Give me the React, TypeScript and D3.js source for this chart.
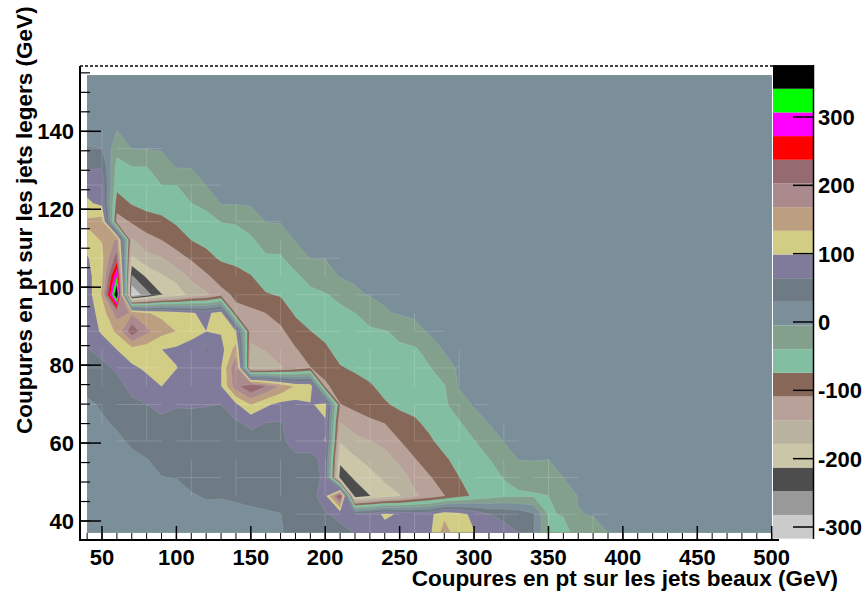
import React from "react";
import * as d3 from "d3";

const W = 866, H = 594;
const xTitle = "Coupures en pt sur les jets beaux (GeV)";
const yTitle = "Coupures en pt sur les jets legers (GeV)";
const font = "'Liberation Sans', Arial, sans-serif";

// grid
const nRows = 26;
const xStart = 40, xStep = 10, xEnd = 500;
const yTop = 154.36, yStep = 4.692;

// colour bar
const bandStart = -317, bandStep = 34.65;
const bandColors = ["#cbcbcb","#999999","#4d4d4d","#cbc6a8","#b9b29f","#b7a199","#876858","#82bfa2","#82a08c","#7b8f9a",
  "#6e7b85","#807b9b","#d2cd85","#bc9f80","#ab8a8d","#956a70","#ff0000","#ff00ff","#00ff00","#000000"];
const barTicks = [-300,-200,-100,0,100,200,300];
const xTicks = [50,100,150,200,250,300,350,400,450,500];
const yTicks = [40,60,80,100,120,140];

// z per column, top row first; rows above the first listed value sit at 0
const col = (...v: number[]) => [...new Array(nRows - v.length).fill(0), ...v];
const z40 = col(10,32,60,85,105,140,120,95,85,80,78,72,63,52,38,24,18,15,15,15,15,15,15);
const z50 = col(10,30,62,85,90,150,136,125,128,138,115,105,72,58,42,33,26,20,15,15,15,15,15);
const z60 = col(-5,-28,-52,-65,-90,-125,175,222,305,385,185,140,99,68,55,45,33,25,15,15,15,15,15);
const z70 = col(-4,-40,-57,-72,-105,-147,-185,-253,-312,165,228,120,92,72,58,45,33,25,15,15,15,15);
const z80 = col(-3,-40,-52,-64,-88,-122,-155,-208,-262,135,178,115,105,85,64,50,38,29,22,15,15,15);
const z90 = col(-2,-22,-40,-60,-82,-109,-146,-183,-215,128,145,99,110,99,72,58,45,35,29,22,15,15);
const z100 = col(-3,-40,-55,-70,-93,-122,-165,-200,115,133,92,100,80,66,56,48,38,30,22,15,15);
const z110 = col(-3,-25,-40,-58,-74,-105,-137,-165,102,108,88,78,72,66,58,50,42,35,28,20,15);
const z120 = col(-4,-33,-50,-65,-85,-115,-150,90,99,60,75,72,65,58,50,45,38,31,24,15);
const z130 = col(-3,-39,-58,-70,-94,-120,115,102,85,97,97,64,56,50,45,38,31,22,15);
const z140 = col(-3,-37,-53,-67,-84,-103,-118,100,150,205,190,92,60,50,45,38,32,25,15);
const z150 = col(-1,-25,-45,-60,-76,-95,-115,-132,-150,-170,240,135,70,55,48,40,33,27,15);
const z160 = col(-4,-25,-45,-60,-77,-109,-125,-142,-160,205,105,64,52,46,40,34,28,15);
const z170 = col(-3,-23,-44,-58,-72,-95,-116,-130,-146,165,88,62,60,55,48,40,29,28);
const z180 = col(-3,-22,-47,-58,-70,-90,-112,-128,130,88,75,72,60,55,48,40,36);
const z190 = col(-4,-27,-50,-62,-75,-92,-110,125,95,80,75,58,52,48,42,38);
const z200 = col(-4,-22,-42,-55,-65,-80,-95,-115,110,95,100,70,70,85,62,58);
const z210 = col(-3,-32,-47,-55,-62,-77,-94,-110,-144,-175,-204,-233,250,70,58);
const z220 = col(-1,-10,-40,-47,-55,-70,-86,-100,-125,-155,-183,-208,-238,75,65);
const z230 = col(-3,-30,-43,-52,-62,-78,-92,-115,-144,-167,-190,-214,80,75);
const z240 = col(-8,-42,-48,-55,-65,-78,-108,-135,-155,-172,-195,105,85);
const z250 = col(-2,-32,-45,-52,-60,-68,-88,-110,-137,-158,-180,95,82);
const z260 = col(-15,-45,-50,-56,-63,-80,-92,-111,-133,-150,85,80);
const z270 = col(-1,-25,-42,-48,-55,-66,-80,-92,-112,-130,88,90);
const z280 = col(-2,-20,-42,-46,-52,-62,-80,-93,-110,125,150);
const z290 = col(-2,-20,-43,-51,-62,-75,-85,110,112);
const z300 = col(-2,-20,-41,-50,-58,-70,90,100);
const z310 = col(-4,-22,-41,-47,-55,65,78);
const z320 = col(-4,-20,-39,-45,58,72);
const z330 = col(-4,-28,-45,52,64);
const z340 = col(-3,-26,-43,32,32);
const z350 = col(-5,-22,-40,-42,-42);
const z360 = col(-5,-20,-38,-50);
const z370 = col(-4,-6,-28);
const z380 = col(-4,-14);
const z390 = col(-5);
const columns = [z40,z50,z60,z70,z80,z90,z100,z110,z120,z130,z140,z150,z160,z170,z180,z190,z200,z210,z220,z230,z240,z250,z260,z270,z280,z290,z300,z310,z320,z330,z340,z350,z360,z370,z380,z390];

const nCols = (xEnd - xStart) / xStep + 1;
const zAt = (i: number, j: number) => (columns[i] ? columns[i][j] : 0);

export default function App() {
  const x = d3.scaleLinear().domain([50, 500]).range([102, 771.7]);
  const y = d3.scaleLinear().domain([40, 140]).range([521, 131.3]);
  const c = d3.scaleLinear().domain([-300, 300]).range([527, 117]);

  const flat: number[] = [];
  for (let j = 0; j < nRows; j++) for (let i = 0; i < nCols; i++) flat.push(zAt(i, j));
  const levels = d3.range(bandColors.length).map((k) => bandStart + k * bandStep);
  const contours = d3.contours().size([nCols, nRows]).thresholds(levels)(flat);
  const gx = (g: number) => x(xStart + (g - 0.5) * xStep);
  const gy = (g: number) => y(yTop - (g - 0.5) * yStep);
  const path = d3.geoPath(d3.geoTransform({
    point(px: number, py: number) { (this as any).stream.point(gx(px), gy(py)); },
  }));

  const x0 = x(xStart), x1 = x(xEnd), y0 = y(yTop), y1 = y(yTop - (nRows - 1) * yStep);
  const frameL = 80, frameB = 541, frameT = 66, barL = 773, barR = 813.5;

  // thin seams left between the filled polygons: only some cell edges show one
  const inBg = (v: number) => v >= levels[9] && v < levels[10];
  const seams: string[] = [];
  for (let j = 0; j < nRows - 1; j++) for (let i = 0; i < nCols - 1; i++) {
    const cs = [zAt(i,j), zAt(i+1,j), zAt(i,j+1), zAt(i+1,j+1)];
    if (cs.every(inBg)) continue;
    const xa = x(xStart + i * xStep), xb = x(xStart + (i + 1) * xStep);
    const ya = y(yTop - j * yStep), yb = y(yTop - (j + 1) * yStep);
    if (j % 2 === 0 && i % 4 !== 1) seams.push(`M${xa},${ya}H${xb}`);
    if (i % 3 === 0 && j % 3 !== 2) seams.push(`M${xb},${ya}V${yb}`);
  }

  const xMinor = d3.range(40, 510, 10);
  const yMinor = d3.range(40, 156, 5);
  const tickText = { fontFamily: font, fontWeight: 700, fontSize: 22, fill: "#000" } as const;

  return (
    <svg width={W} height={H} viewBox={`0 0 ${W} ${H}`} style={{ position: "absolute", left: 0, top: 0, background: "#fff" }}>
      <defs>
        <clipPath id="plot"><rect x={x0} y={y0} width={x1 - x0} height={y1 - y0} /></clipPath>
      </defs>
      <g clipPath="url(#plot)">
        {contours.map((ct, k) => (
          <path key={k} d={path(ct as any) ?? ""} fill={bandColors[k]} stroke="#ffffff" strokeOpacity={0.2} strokeWidth={0.5} />
        ))}
        <path d={seams.join("")} fill="none" stroke="#ffffff" strokeOpacity={0.16} strokeWidth={1} />
      </g>

      {/* colour bar */}
      {bandColors.map((col, k) => {
        const lo = bandStart + k * bandStep;
        return <rect key={k} x={barL} y={c(lo + bandStep)} width={barR - barL} height={c(lo) - c(lo + bandStep)} fill={col} />;
      })}
      <line x1={barR} x2={barR} y1={65} y2={539} stroke="#000" strokeWidth={1.5} />
      {barTicks.map((t) => (
        <g key={t}>
          <line x1={793} x2={barR} y1={c(t)} y2={c(t)} stroke="#000" strokeWidth={1.5} />
          <text x={818} y={c(t) + 8} {...tickText}>{t}</text>
        </g>
      ))}

      {/* frame */}
      <line x1={frameL} x2={barL} y1={frameT} y2={frameT} stroke="#000" strokeWidth={1.5} strokeDasharray="3 2" />
      <line x1={frameL} x2={frameL} y1={frameT} y2={frameB} stroke="#000" strokeWidth={2} />
      <line x1={frameL} x2={779} y1={frameB - 1} y2={frameB - 1} stroke="#000" strokeWidth={2} />
      {xMinor.map((v) => (
        <line key={v} x1={x(v)} x2={x(v)} y1={frameB} y2={frameB - 8} stroke="#000" strokeWidth={1} />
      ))}
      {xTicks.map((v) => (
        <g key={v}>
          <line x1={x(v)} x2={x(v)} y1={frameB} y2={frameB - 15} stroke="#000" strokeWidth={1.5} />
          <text x={x(v)} y={565} textAnchor="middle" {...tickText}>{v}</text>
        </g>
      ))}
      {yMinor.map((v) => (
        <line key={v} x1={frameL} x2={frameL + 10} y1={y(v)} y2={y(v)} stroke="#000" strokeWidth={1.2} />
      ))}
      {yTicks.map((v) => (
        <g key={v}>
          <line x1={frameL} x2={frameL + 21} y1={y(v)} y2={y(v)} stroke="#000" strokeWidth={1.5} />
          <text x={74} y={y(v) + 8} textAnchor="end" {...tickText}>{v}</text>
        </g>
      ))}

      <text x={838} y={586} textAnchor="end" fontFamily={font} fontWeight={700} fontSize={22.5}>{xTitle}</text>
      <text transform="translate(32,434) rotate(-90)" textAnchor="start" fontFamily={font} fontWeight={700} fontSize={22.5}>{yTitle}</text>
    </svg>
  );
}
